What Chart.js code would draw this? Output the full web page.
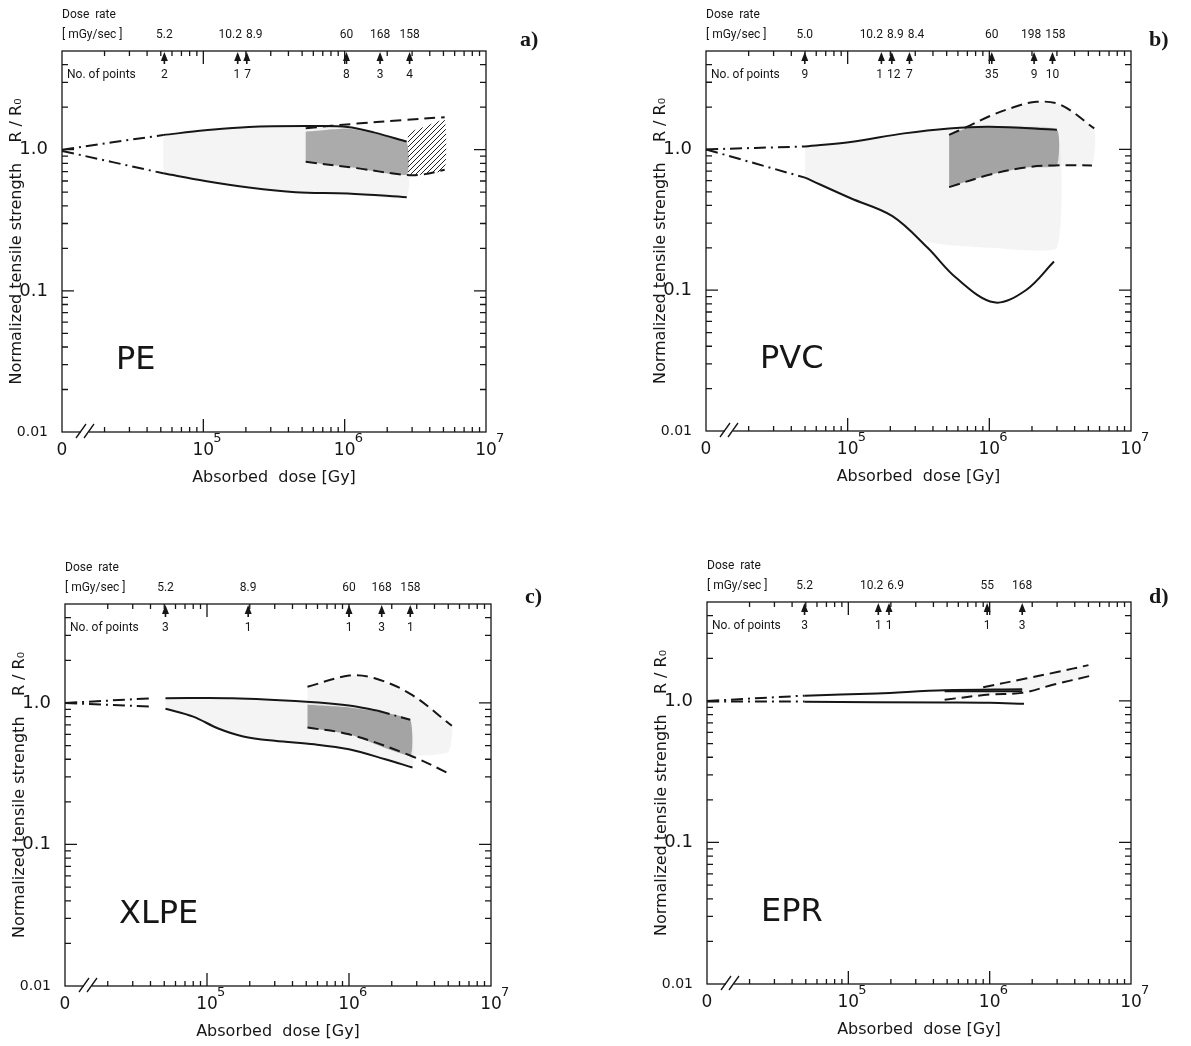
<!DOCTYPE html>
<html>
<head>
<meta charset="utf-8">
<script src="https://cdn.jsdelivr.net/npm/chart.js@4.4.1/dist/chart.umd.min.js"></script>
<style>
  body { margin: 0; background: #fff; }
  #wrap { position: relative; width: 1191px; height: 1046px; }
  canvas { position: absolute; }
</style>
</head>
<body>
<div id="wrap">
  <canvas id="pe"></canvas>
  <canvas id="pvc"></canvas>
  <canvas id="xlpe"></canvas>
  <canvas id="epr"></canvas>
</div>
<script>
// axis ticks
const xTickValues = [1e4, 1e5, 1e6, 1e7];
const xTickLabels = ['0', '10', '10', '10'];
const xTickExponents = ['', '5', '6', '7'];
const yTickValues = [0.01, 0.1, 1];
const yTickLabels = ['0.01', '0.1', '1.0'];

// ---- a) PE ----  points are [absorbed dose Gy, R/R0]
const peRateDose = [5.3e4, 1.75e5, 2.03e5, 1.03e6, 1.78e6, 2.88e6];
const peRateLabels = ['5.2', '10.2', '8.9', '60', '168', '158'];
const pePointCounts = ['2', '1', '7', '8', '3', '4'];
const peUpperDashDot = [[1e4, 1.0], [5.2e4, 1.27]];
const peUpperSolid = [[5.2e4, 1.27], [1.03e5, 1.37], [2.1e5, 1.45], [5.4e5, 1.47], [1.05e6, 1.45], [1.63e6, 1.32], [2.75e6, 1.14]];
const peLowerDashDot = [[1e4, 0.98], [5.2e4, 0.68]];
const peLowerSolid = [[5.2e4, 0.68], [1.03e5, 0.60], [2.1e5, 0.54], [4.5e5, 0.50], [1.05e6, 0.49], [2.75e6, 0.46]];
const peUpperDashed = [[5.3e5, 1.42], [1.22e6, 1.53], [2.6e6, 1.62], [5.1e6, 1.70]];
const peLowerDashed = [[5.3e5, 0.82], [1.22e6, 0.74], [2.57e6, 0.665], [3.5e6, 0.665], [5.1e6, 0.72]];
const peDarkTop = [[5.3e5, 1.34], [1.05e6, 1.41], [1.63e6, 1.30], [2.75e6, 1.12]];
const peDarkBottom = [[5.3e5, 0.82], [1.22e6, 0.74], [2.75e6, 0.665]];
const peHatchTop = [[2.8e6, 1.32], [3.7e6, 1.46], [5.1e6, 1.62]];
const peHatchBottom = [[2.8e6, 0.665], [3.5e6, 0.665], [5.1e6, 0.72]];

// ---- b) PVC ----
const pvcRateDose = [4.98e4, 1.73e5, 2.05e5, 2.73e5, 1.04e6, 2.07e6, 2.79e6];
const pvcRateLabels = ['5.0', '10.2', '8.9', '8.4', '60', '198', '158'];
const pvcPointCounts = ['9', '1', '12', '7', '35', '9', '10'];
const pvcUpperDashDot = [[1e4, 1.0], [5e4, 1.05]];
const pvcUpperSolid = [[5e4, 1.05], [1.05e5, 1.13], [2.5e5, 1.30], [5.2e5, 1.41], [1.0e6, 1.45], [3.0e6, 1.38]];
const pvcLowerDashDot = [[1e4, 1.0], [5e4, 0.63]];
const pvcLowerSolid = [[5e4, 0.63], [1.05e5, 0.45], [2.07e5, 0.336], [3.67e5, 0.20], [5.8e5, 0.123], [1.08e6, 0.082], [1.81e6, 0.10], [2.86e6, 0.16]];
const pvcUpperDashed = [[5.2e5, 1.27], [7e5, 1.45], [1.0e6, 1.72], [1.5e6, 2.0], [2.15e6, 2.18], [3.2e6, 2.07], [5.5e6, 1.41]];
const pvcLowerDashed = [[5.2e5, 0.54], [1.0e6, 0.66], [1.8e6, 0.745], [2.9e6, 0.77], [5.3e6, 0.77]];
const pvcDarkTop = [[5.2e5, 1.27], [7e5, 1.42], [1.0e6, 1.45], [3.0e6, 1.38]];
const pvcDarkBottom = [[5.2e5, 0.54], [1.0e6, 0.66], [1.8e6, 0.745], [3.0e6, 0.77]];
const pvcLightBottom = [[5e4, 0.63], [1.05e5, 0.45], [2.07e5, 0.336], [3.67e5, 0.22], [1.0e6, 0.2], [3.0e6, 0.2]];

// ---- c) XLPE ----
const xlpeRateDose = [5.1e4, 1.95e5, 1.0e6, 1.7e6, 2.7e6];
const xlpeRateLabels = ['5.2', '8.9', '60', '168', '158'];
const xlpePointCounts = ['3', '1', '1', '3', '1'];
const xlpeUpperDashDot = [[1e4, 1.0], [4.2e4, 1.08]];
const xlpeUpperSolid = [[5.1e4, 1.08], [1.5e5, 1.08], [5e5, 1.02], [1.0e6, 0.96], [1.6e6, 0.88]];
const xlpeUpperDashDot2 = [[1.6e6, 0.88], [2.7e6, 0.76]];
const xlpeLowerDashDot = [[1e4, 1.0], [4.2e4, 0.94]];
const xlpeLowerSolid = [[5.1e4, 0.91], [8e4, 0.80], [1.2e5, 0.66], [1.8e5, 0.58], [3e5, 0.54], [5.7e5, 0.51], [1.0e6, 0.47], [1.8e6, 0.40], [2.8e6, 0.35]];
const xlpeUpperDashed = [[5.1e5, 1.30], [1.0e6, 1.56], [1.5e6, 1.50], [2.7e6, 1.16], [5.3e6, 0.69]];
const xlpeMidDashed = [[5.1e5, 0.67], [1.0e6, 0.60], [2.7e6, 0.425], [5.3e6, 0.31]];
const xlpeDarkTop = [[5.1e5, 0.97], [1.0e6, 0.93], [1.6e6, 0.87], [2.7e6, 0.76]];
const xlpeDarkBottom = [[5.1e5, 0.67], [1.0e6, 0.60], [2.7e6, 0.425]];
const xlpeLightRightBottom = [[5.1e5, 0.67], [1.0e6, 0.60], [2.7e6, 0.425], [5.0e6, 0.45]];

// ---- d) EPR ----
const eprRateDose = [4.9e4, 1.63e5, 1.94e5, 9.6e5, 1.7e6];
const eprRateLabels = ['5.2', '10.2', '6.9', '55', '168'];
const eprPointCounts = ['3', '1', '1', '1', '3'];
const eprUpperDashDot = [[1e4, 1.0], [4.9e4, 1.09]];
const eprUpperSolid = [[4.9e4, 1.09], [1.6e5, 1.13], [4.8e5, 1.19], [1.7e6, 1.21]];
const eprMidSolid = [[4.8e5, 1.17], [1.7e6, 1.17]];
const eprLowerDashDot = [[1e4, 0.99], [4.9e4, 0.99]];
const eprLowerSolid = [[4.9e4, 0.985], [5e5, 0.975], [1.0e6, 0.97], [1.75e6, 0.955]];
const eprUpperDashed = [[9e5, 1.25], [1.8e6, 1.44], [3e6, 1.6], [5e6, 1.79]];
const eprLowerDashed = [[4.8e5, 1.02], [1.0e6, 1.11], [1.7e6, 1.14], [2.8e6, 1.3], [5.1e6, 1.5]];

// ---- styles ----
const INK = '#161616';
const DASH = { solid: [], dashed: [11, 6], dashdot: [12, 5, 2, 5] };
const LIGHT = 'rgba(0,0,0,0.045)';
const DARK = 'rgba(0,0,0,0.30)';
const HATCH = (() => {
    const c = document.createElement('canvas');
    c.width = c.height = 5;
    const g = c.getContext('2d');
    g.strokeStyle = '#222';
    g.lineWidth = 1;
    g.beginPath();
    g.moveTo(0, 5); g.lineTo(5, 0);
    g.moveTo(-1, 1); g.lineTo(1, -1);
    g.moveTo(4, 6); g.lineTo(6, 4);
    g.stroke();
    return g.createPattern(c, 'repeat');
})();

const panels = [
    {
        canvas: 'pe', box: [0, 0, 600, 523], area: [62, 51, 486, 432],
        name: 'PE', letter: 'a)', letterAt: [520, 40],
        rateDose: peRateDose, rateLabels: peRateLabels, counts: pePointCounts,
        lines: [[peUpperDashDot, 'dashdot'], [peUpperSolid, 'solid'], [peLowerDashDot, 'dashdot'],
                [peLowerSolid, 'solid'], [peUpperDashed, 'dashed'], [peLowerDashed, 'dashed']],
        bands: [[peHatchTop, peHatchBottom, HATCH], [peDarkTop, peDarkBottom, DARK], [peUpperSolid, peLowerSolid, LIGHT]]
    },
    {
        canvas: 'pvc', box: [640, 0, 551, 523], area: [706, 51, 1131, 431],
        name: 'PVC', letter: 'b)', letterAt: [509, 40],
        rateDose: pvcRateDose, rateLabels: pvcRateLabels, counts: pvcPointCounts,
        lines: [[pvcUpperDashDot, 'dashdot'], [pvcUpperSolid, 'solid'], [pvcLowerDashDot, 'dashdot'],
                [pvcLowerSolid, 'solid'], [pvcUpperDashed, 'dashed'], [pvcLowerDashed, 'dashed']],
        bands: [[pvcDarkTop, pvcDarkBottom, DARK], [pvcUpperDashed, pvcLowerDashed, LIGHT], [pvcUpperSolid, pvcLightBottom, LIGHT]]
    },
    {
        canvas: 'xlpe', box: [0, 523, 600, 523], area: [65, 604, 491, 986],
        name: 'XLPE', letter: 'c)', letterAt: [525, 74],
        rateDose: xlpeRateDose, rateLabels: xlpeRateLabels, counts: xlpePointCounts,
        lines: [[xlpeUpperDashDot, 'dashdot'], [xlpeUpperSolid, 'solid'], [xlpeUpperDashDot2, 'dashdot'],
                [xlpeLowerDashDot, 'dashdot'], [xlpeLowerSolid, 'solid'], [xlpeUpperDashed, 'dashed'], [xlpeMidDashed, 'dashed']],
        bands: [[xlpeDarkTop, xlpeDarkBottom, DARK], [xlpeUpperDashed, xlpeLightRightBottom, LIGHT],
                [xlpeUpperSolid.concat(xlpeUpperDashDot2.slice(1)), xlpeLowerSolid, LIGHT]]
    },
    {
        canvas: 'epr', box: [640, 523, 551, 523], area: [707, 602, 1131, 984],
        name: 'EPR', letter: 'd)', letterAt: [509, 74],
        rateDose: eprRateDose, rateLabels: eprRateLabels, counts: eprPointCounts,
        lines: [[eprUpperDashDot, 'dashdot'], [eprUpperSolid, 'solid'], [eprMidSolid, 'solid'], [eprLowerDashDot, 'dashdot'],
                [eprLowerSolid, 'solid'], [eprUpperDashed, 'dashed'], [eprLowerDashed, 'dashed']],
        bands: [[eprUpperDashed, eprLowerDashed, 'rgba(0,0,0,0.04)']]
    }
];

const xy = pts => pts.map(([x, y]) => ({ x, y }));

function curve(pts, style) {
    return {
        data: xy(pts), borderColor: INK, borderWidth: 2, borderDash: DASH[style],
        pointRadius: 0, tension: 0.35, fill: false
    };
}

function band(top, bottom, color) {
    return {
        data: xy(top.concat(bottom.slice().reverse())), borderWidth: 0, borderColor: 'rgba(0,0,0,0)',
        pointRadius: 0, tension: 0.15, fill: 'shape', backgroundColor: color
    };
}

const near = (a, b) => Math.abs(Math.log10(a) - Math.log10(b)) < 1e-6;

// spread labels sideways so neighbours do not overlap
function spread(items, gap) {
    for (let k = 0; k < 6; k++) {
        for (let i = 1; i < items.length; i++) {
            const a = items[i - 1], b = items[i];
            const need = (a.w + b.w) / 2 + gap - (b.x - a.x);
            if (need > 0) { a.x -= need / 2; b.x += need / 2; }
        }
    }
    return items;
}

function decoPlugin(p) {
    return {
        id: 'deco',
        afterDatasetsDraw(chart) {
            const { ctx, chartArea: a, scales: { x, y } } = chart;
            ctx.save();
            ctx.strokeStyle = INK;
            ctx.fillStyle = INK;
            ctx.lineWidth = 1.3;
            ctx.strokeRect(a.left, a.top, a.right - a.left, a.bottom - a.top);

            // inward ticks on all four sides
            ctx.beginPath();
            for (let e = -2; e <= 0; e++) {
                for (let m = 1; m <= 9; m++) {
                    const v = m * Math.pow(10, e);
                    if (v <= y.min * 1.001 || v >= y.max * 0.999) continue;
                    const py = y.getPixelForValue(v), len = m === 1 ? 12 : 6;
                    ctx.moveTo(a.left, py); ctx.lineTo(a.left + len, py);
                    ctx.moveTo(a.right, py); ctx.lineTo(a.right - len, py);
                }
            }
            for (let e = 4; e <= 6; e++) {
                for (let m = 1; m <= 9; m++) {
                    const v = m * Math.pow(10, e);
                    if (v <= x.min * 1.001) continue;
                    const px = x.getPixelForValue(v), len = m === 1 ? 13 : 5;
                    ctx.moveTo(px, a.bottom); ctx.lineTo(px, a.bottom - len);
                    ctx.moveTo(px, a.top); ctx.lineTo(px, a.top + len);
                }
            }
            ctx.stroke();

            // axis break
            const b1 = a.left + 19, b2 = a.left + 27;
            ctx.strokeStyle = '#fff';
            ctx.lineWidth = 3;
            ctx.beginPath(); ctx.moveTo(b1, a.bottom); ctx.lineTo(b2, a.bottom); ctx.stroke();
            ctx.strokeStyle = INK;
            ctx.lineWidth = 1.3;
            ctx.beginPath();
            ctx.moveTo(b1 - 5, a.bottom + 6); ctx.lineTo(b1 + 5, a.bottom - 8);
            ctx.moveTo(b2 - 5, a.bottom + 6); ctx.lineTo(b2 + 5, a.bottom - 8);
            ctx.stroke();

            // exponents of the x tick labels
            ctx.font = '13px "DejaVu Sans"';
            ctx.textBaseline = 'middle';
            ctx.textAlign = 'left';
            xTickValues.forEach((v, i) => {
                if (xTickExponents[i]) ctx.fillText(xTickExponents[i], x.getPixelForValue(v) + 10, a.bottom + 7);
            });

            // dose-rate arrows
            p.rateDose.forEach(d => {
                const px = x.getPixelForValue(d);
                ctx.beginPath();
                ctx.moveTo(px, a.top + 1);
                ctx.lineTo(px - 3.5, a.top + 10);
                ctx.lineTo(px + 3.5, a.top + 10);
                ctx.closePath();
                ctx.fill();
                ctx.fillRect(px - 0.8, a.top + 9, 1.6, 4);
            });

            ctx.font = '12px Roboto';
            ctx.fillText('Dose  rate', a.left, a.top - 36);
            ctx.fillText('[ mGy/sec ]', a.left, a.top - 16);
            ctx.fillText('No. of points', a.left + 5, a.top + 24);

            ctx.textAlign = 'center';
            const rates = spread(p.rateLabels.map((t, i) => ({ t, x: x.getPixelForValue(p.rateDose[i]), w: ctx.measureText(t).width })), 4);
            rates.forEach(r => ctx.fillText(r.t, r.x, a.top - 16));
            const counts = spread(p.counts.map((t, i) => ({ t, x: x.getPixelForValue(p.rateDose[i]), w: ctx.measureText(t).width })), 4);
            counts.forEach(r => ctx.fillText(r.t, r.x, a.top + 24));

            // material name and panel letter
            ctx.textAlign = 'left';
            ctx.font = '32px "DejaVu Sans"';
            ctx.fillText(p.name, a.left + 54, y.getPixelForValue(0.032));
            ctx.font = 'bold 22px "Liberation Serif"';
            ctx.fillText(p.letter, p.letterAt[0], p.letterAt[1]);
            ctx.restore();
        }
    };
}

panels.forEach(p => {
    const cv = document.getElementById(p.canvas);
    const [bx, by, bw, bh] = p.box;
    const [L, T, R, B] = p.area;
    cv.width = bw;
    cv.height = bh;
    cv.style.left = bx + 'px';
    cv.style.top = by + 'px';
    const yw = L - bx;
    const xh = by + bh - B;

    new Chart(cv, {
        type: 'line',
        data: {
            datasets: p.lines.map(([pts, style]) => curve(pts, style))
                .concat(p.bands.map(([top, bottom, color]) => band(top, bottom, color)))
        },
        options: {
            responsive: false,
            animation: false,
            layout: { padding: { top: T - by, right: bx + bw - R, left: 0, bottom: 0 } },
            plugins: {
                legend: { display: false },
                tooltip: { enabled: false }
            },
            scales: {
                x: {
                    type: 'logarithmic',
                    min: 1e4,
                    max: 1e7,
                    grid: { display: false },
                    border: { display: false },
                    ticks: {
                        autoSkip: false,
                        maxRotation: 0,
                        minRotation: 0,
                        padding: 0,
                        color: INK,
                        font: { family: '"DejaVu Sans"', size: 17 },
                        callback: v => {
                            const i = xTickValues.findIndex(t => near(t, v));
                            return i < 0 ? '' : xTickLabels[i];
                        }
                    },
                    title: {
                        display: true,
                        text: 'Absorbed  dose [Gy]',
                        color: INK,
                        font: { family: '"DejaVu Sans"', size: 16 },
                        padding: { top: 0, bottom: xh - 46 - 9.6 }
                    },
                    afterFit: s => { s.height = xh; }
                },
                y: {
                    type: 'logarithmic',
                    min: 0.01,
                    max: 5,
                    grid: { display: false },
                    border: { display: false },
                    ticks: {
                        autoSkip: false,
                        padding: 6,
                        color: INK,
                        font: c => ({ family: '"DejaVu Sans"', size: (c.tick && c.tick.value < 0.05) ? 14 : 18 }),
                        callback: v => {
                            const i = yTickValues.findIndex(t => near(t, v));
                            return i < 0 ? '' : yTickLabels[i];
                        }
                    },
                    title: {
                        display: true,
                        text: 'Normalized tensile strength    R / R\u2080',
                        color: INK,
                        font: { family: '"DejaVu Sans"', size: 16 },
                        padding: { top: yw - 45 - 9.6, bottom: 0 }
                    },
                    afterFit: s => { s.width = yw; }
                }
            }
        },
        plugins: [decoPlugin(p)]
    });
});
</script>
</body>
</html>
